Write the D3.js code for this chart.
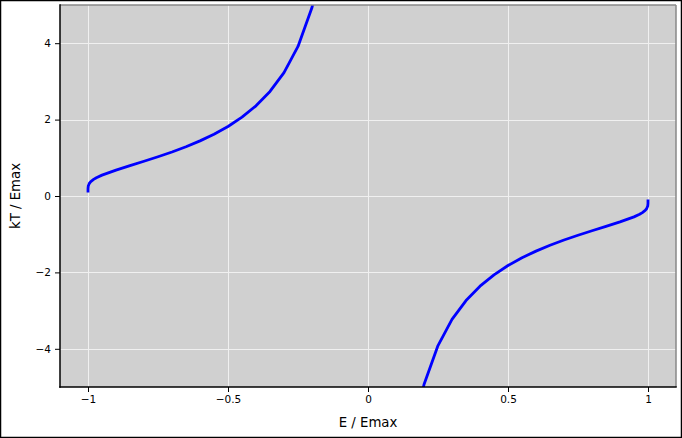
<!DOCTYPE html>
<html><head><meta charset="utf-8">
<script src="https://cdn.jsdelivr.net/npm/d3@7"></script>
<style>
body{margin:0;background:#fff;}
svg{display:block;font-family:"DejaVu Sans",sans-serif;}
</style></head>
<body>
<svg id="chart" width="682" height="438"></svg>
<script>
// E/Emax values and kT/Emax for the negative-energy branch
const eNeg = [-0.999999999, -0.9999999, -0.99999, -0.9999, -0.999, -0.995, -0.99, -0.98, -0.97, -0.95, -0.9, -0.85, -0.8, -0.75, -0.7, -0.65, -0.6, -0.55, -0.5, -0.45, -0.4, -0.35, -0.3, -0.25, -0.2, -0.15];
const tNeg = [0.093, 0.119, 0.164, 0.202, 0.263, 0.334, 0.378, 0.435, 0.478, 0.546, 0.679, 0.796, 0.910, 1.028, 1.153, 1.290, 1.443, 1.617, 1.820, 2.063, 2.361, 2.737, 3.231, 3.915, 4.933, 6.607];
// positive-energy branch
const ePos = [0.15, 0.2, 0.25, 0.3, 0.35, 0.4, 0.45, 0.5, 0.55, 0.6, 0.65, 0.7, 0.75, 0.8, 0.85, 0.9, 0.95, 0.97, 0.98, 0.99, 0.995, 0.999, 0.9999, 0.99999, 0.9999999, 0.999999999];
const tPos = [-6.607, -4.933, -3.915, -3.231, -2.737, -2.361, -2.063, -1.820, -1.617, -1.443, -1.290, -1.153, -1.028, -0.910, -0.796, -0.679, -0.546, -0.478, -0.435, -0.378, -0.334, -0.263, -0.202, -0.164, -0.119, -0.093];
const xTicks = [-1, -0.5, 0, 0.5, 1];
const yTicks = [-4, -2, 0, 2, 4];

const svg = d3.select("#chart");
const W = 682, H = 438;
const L = 60, R = 676, T = 5, B = 387;

svg.append("rect").attr("x",0.5).attr("y",0.5).attr("width",W-1).attr("height",H-1)
  .attr("fill","#fff").attr("stroke","#000").attr("stroke-width",1.5);

const x = d3.scaleLinear().domain([-1.1, 1.1]).range([L, R]);
const y = d3.scaleLinear().domain([-5, 5]).range([B, T]);

svg.append("rect").attr("x",L).attr("y",T).attr("width",R-L).attr("height",B-T).attr("fill","#d0d0d0");

// grid
const g = svg.append("g");
g.selectAll(".gx").data(xTicks).join("line")
  .attr("x1",d=>Math.round(x(d))+0.5).attr("x2",d=>Math.round(x(d))+0.5)
  .attr("y1",T).attr("y2",B).attr("stroke","#f0f0f0").attr("stroke-width",1);
g.selectAll(".gy").data(yTicks).join("line")
  .attr("y1",d=>Math.round(y(d))+0.5).attr("y2",d=>Math.round(y(d))+0.5)
  .attr("x1",L).attr("x2",R).attr("stroke","#f0f0f0").attr("stroke-width",1);

svg.append("clipPath").attr("id","clip").append("rect")
  .attr("x",L).attr("y",T).attr("width",R-L).attr("height",B-T);

const line = d3.line().x(d=>x(d[0])).y(d=>y(d[1]));
const pg = svg.append("g").attr("clip-path","url(#clip)");
[[eNeg,tNeg],[ePos,tPos]].forEach(([es,ts])=>{
  pg.append("path").datum(es.map((e,i)=>[e,ts[i]]))
    .attr("d",line).attr("fill","none").attr("stroke","#0000ff")
    .attr("stroke-width",2.8).attr("stroke-linejoin","round").attr("stroke-linecap","butt");
});

// spines
svg.append("line").attr("x1",L).attr("x2",R).attr("y1",T).attr("y2",T).attr("stroke","#888").attr("stroke-width",1.5);
svg.append("line").attr("x1",R).attr("x2",R).attr("y1",T).attr("y2",B).attr("stroke","#888").attr("stroke-width",1.5);
svg.append("line").attr("x1",L).attr("x2",L).attr("y1",T-0.75).attr("y2",B+0.75).attr("stroke","#000").attr("stroke-width",1.5);
svg.append("line").attr("x1",L-0.75).attr("x2",R+0.75).attr("y1",B).attr("y2",B).attr("stroke","#000").attr("stroke-width",1.5);

const fmt = d => String(d).replace("-", "\u2212");
const xa = svg.append("g").attr("transform",`translate(0,${B})`)
  .call(d3.axisBottom(x).tickValues(xTicks).tickFormat(fmt).tickSizeOuter(0).tickSize(5).tickPadding(4));
const ya = svg.append("g").attr("transform",`translate(${L},0)`)
  .call(d3.axisLeft(y).tickValues(yTicks).tickFormat(fmt).tickSizeOuter(0).tickSize(5).tickPadding(4));
[xa,ya].forEach(a=>{
  a.select(".domain").remove();
  a.selectAll("text").attr("font-size","10.5px").attr("font-family","DejaVu Sans").attr("fill","#000");
  a.selectAll("line").attr("stroke","#000").attr("stroke-width",1);
});

svg.append("text").attr("x",(L+R)/2).attr("y",427).attr("text-anchor","middle")
  .attr("font-size","13.3px").text("E / Emax");
svg.append("text").attr("transform",`translate(20,${(T+B)/2}) rotate(-90)`).attr("text-anchor","middle")
  .attr("font-size","13.3px").text("kT / Emax");
</script>
</body></html>
